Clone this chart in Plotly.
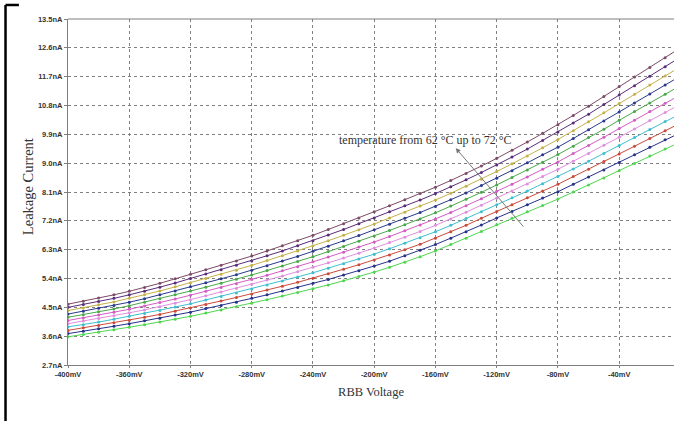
import plotly.graph_objects as go

voltage_mv = [-400, -390, -380, -370, -360, -350, -340, -330, -320, -310, -300,
              -290, -280, -270, -260, -250, -240, -230, -220, -210, -200,
              -190, -180, -170, -160, -150, -140, -130, -120, -110, -100,
              -90, -80, -70, -60, -50, -40, -30, -20, -10, 0]

temps_c = [62, 63, 64, 65, 66, 67, 68, 69, 70, 71, 72]

i62 = [3.58, 3.65, 3.72, 3.80, 3.88, 3.96, 4.04, 4.13, 4.22, 4.32, 4.42, 4.52, 4.63, 4.74, 4.85, 4.96, 5.08, 5.20, 5.33, 5.46, 5.60,
       5.75, 5.91, 6.08, 6.26, 6.46, 6.66, 6.87, 7.08, 7.28, 7.48, 7.68, 7.88, 8.10, 8.32, 8.54, 8.76, 8.99, 9.22, 9.44, 9.66]
i63 = [3.68, 3.75, 3.83, 3.91, 3.99, 4.08, 4.16, 4.26, 4.35, 4.46, 4.56, 4.66, 4.78, 4.89, 5.01, 5.12, 5.25, 5.37, 5.51, 5.64, 5.79,
       5.94, 6.11, 6.28, 6.46, 6.66, 6.86, 7.07, 7.29, 7.49, 7.70, 7.91, 8.11, 8.34, 8.57, 8.79, 9.02, 9.26, 9.50, 9.73, 9.95]
i64 = [3.78, 3.86, 3.93, 4.02, 4.10, 4.19, 4.28, 4.38, 4.48, 4.59, 4.70, 4.81, 4.92, 5.04, 5.16, 5.28, 5.41, 5.55, 5.69, 5.83, 5.98,
       6.13, 6.30, 6.47, 6.66, 6.86, 7.06, 7.28, 7.49, 7.70, 7.92, 8.13, 8.34, 8.58, 8.81, 9.05, 9.29, 9.53, 9.77, 10.01, 10.25]
i65 = [3.89, 3.96, 4.04, 4.13, 4.22, 4.31, 4.40, 4.51, 4.61, 4.73, 4.84, 4.95, 5.07, 5.20, 5.32, 5.45, 5.58, 5.72, 5.86, 6.01, 6.16,
       6.33, 6.50, 6.67, 6.86, 7.06, 7.27, 7.48, 7.70, 7.92, 8.13, 8.36, 8.58, 8.82, 9.06, 9.30, 9.55, 9.80, 10.05, 10.30, 10.54]
i66 = [3.99, 4.07, 4.15, 4.24, 4.33, 4.42, 4.52, 4.63, 4.74, 4.86, 4.98, 5.09, 5.22, 5.35, 5.48, 5.61, 5.75, 5.89, 6.04, 6.19, 6.35,
       6.52, 6.69, 6.87, 7.06, 7.26, 7.47, 7.69, 7.91, 8.13, 8.35, 8.58, 8.81, 9.06, 9.30, 9.56, 9.81, 10.07, 10.33, 10.58, 10.84]
i67 = [4.09, 4.17, 4.26, 4.35, 4.44, 4.54, 4.65, 4.76, 4.88, 5.00, 5.12, 5.24, 5.37, 5.50, 5.64, 5.77, 5.92, 6.07, 6.22, 6.38, 6.54,
       6.71, 6.89, 7.07, 7.26, 7.46, 7.67, 7.89, 8.12, 8.34, 8.57, 8.81, 9.04, 9.30, 9.55, 9.81, 10.08, 10.34, 10.61, 10.87, 11.13]
i68 = [4.19, 4.27, 4.36, 4.45, 4.55, 4.66, 4.77, 4.89, 5.01, 5.13, 5.25, 5.38, 5.51, 5.65, 5.79, 5.93, 6.08, 6.24, 6.40, 6.56, 6.73,
       6.90, 7.08, 7.26, 7.45, 7.66, 7.87, 8.09, 8.32, 8.55, 8.79, 9.03, 9.27, 9.53, 9.80, 10.06, 10.34, 10.61, 10.88, 11.15, 11.42]
i69 = [4.29, 4.38, 4.47, 4.56, 4.66, 4.77, 4.89, 5.01, 5.14, 5.27, 5.39, 5.52, 5.66, 5.80, 5.95, 6.09, 6.25, 6.41, 6.58, 6.74, 6.92,
       7.09, 7.28, 7.46, 7.65, 7.86, 8.07, 8.30, 8.53, 8.76, 9.01, 9.26, 9.50, 9.77, 10.04, 10.32, 10.60, 10.88, 11.16, 11.44, 11.72]
i70 = [4.40, 4.48, 4.58, 4.67, 4.78, 4.89, 5.01, 5.14, 5.27, 5.40, 5.53, 5.66, 5.81, 5.96, 6.11, 6.26, 6.42, 6.58, 6.75, 6.92, 7.10,
       7.29, 7.47, 7.66, 7.85, 8.06, 8.28, 8.50, 8.74, 8.98, 9.22, 9.48, 9.74, 10.01, 10.29, 10.57, 10.86, 11.15, 11.44, 11.72, 12.01]
i71 = [4.50, 4.59, 4.68, 4.78, 4.89, 5.00, 5.13, 5.26, 5.40, 5.54, 5.67, 5.81, 5.95, 6.11, 6.26, 6.42, 6.58, 6.76, 6.93, 7.11, 7.29,
       7.48, 7.67, 7.85, 8.05, 8.26, 8.48, 8.71, 8.94, 9.19, 9.44, 9.71, 9.97, 10.25, 10.53, 10.83, 11.13, 11.42, 11.71, 12.01, 12.31]
i72 = [4.60, 4.69, 4.79, 4.89, 5.00, 5.12, 5.25, 5.39, 5.53, 5.67, 5.81, 5.95, 6.10, 6.26, 6.42, 6.58, 6.75, 6.93, 7.11, 7.29, 7.48,
       7.67, 7.86, 8.05, 8.25, 8.46, 8.68, 8.91, 9.15, 9.40, 9.66, 9.93, 10.20, 10.49, 10.78, 11.08, 11.39, 11.69, 11.99, 12.29, 12.60]

series = [i62, i63, i64, i65, i66, i67, i68, i69, i70, i71, i72]
colors = ["#4fd64f", "#26318a", "#cc4a3a", "#3fbfcf", "#e08fe0", "#d45cc4",
          "#4aa84a", "#2a3a8c", "#c6b048", "#5a2d7a", "#7d4a68"]

x_ticks = [-400, -360, -320, -280, -240, -200, -160, -120, -80, -40]
x_ticktext = ["-400mV", "-360mV", "-320mV", "-280mV", "-240mV", "-200mV",
              "-160mV", "-120mV", "-80mV", "-40mV"]
y_ticks = [2.7, 3.6, 4.5, 5.4, 6.3, 7.2, 8.1, 9.0, 9.9, 10.8, 11.7, 12.6, 13.5]
y_ticktext = ["2.7nA", "3.6nA", "4.5nA", "5.4nA", "6.3nA", "7.2nA", "8.1nA",
              "9.0nA", "9.9nA", "10.8nA", "11.7nA", "12.6nA", "13.5nA"]

fig = go.Figure()
for t, ys, c in zip(temps_c, series, colors):
    fig.add_trace(go.Scatter(
        x=voltage_mv, y=ys, mode="lines+markers", name=f"{t} °C",
        line=dict(color=c, width=1),
        marker=dict(color=c, size=3, line=dict(width=0)),
        showlegend=False, cliponaxis=True))

tick_font = dict(family="Liberation Sans, Arial", size=7.5, color="#333333", weight="bold")
axis_col = "#7f7f7f"
serif = "Liberation Serif, Times New Roman, serif"

fig.update_layout(
    width=674, height=421,
    margin=dict(l=68, r=0, t=19, b=56),
    paper_bgcolor="white", plot_bgcolor="white",
    xaxis=dict(range=[-400, -4.2], tickvals=x_ticks, ticktext=x_ticktext,
               showgrid=True, gridcolor="#808080", griddash="dot", gridwidth=1,
               showline=True, linecolor=axis_col, linewidth=1,
               ticks="outside", ticklen=2, tickcolor=axis_col,
               tickfont=tick_font, zeroline=False,
               title=dict(text="RBB Voltage", standoff=9,
                          font=dict(family=serif, size=12.5, color="#333333"))),
    yaxis=dict(range=[2.7, 13.5], tickvals=y_ticks, ticktext=y_ticktext,
               showgrid=True, gridcolor="#808080", griddash="dot", gridwidth=1,
               showline=True, linecolor=axis_col, linewidth=1,
               ticks="outside", ticklen=3, tickcolor=axis_col,
               tickfont=tick_font, zeroline=False),
)

# y-axis title placed as rotated text
fig.add_annotation(xref="paper", yref="paper", x=-0.066, y=0.514,
                   xanchor="center", yanchor="middle",
                   text="Leakage Current", textangle=-90, showarrow=False,
                   font=dict(family=serif, size=14.5, color="#333333"))

# top border line of the plot area
fig.add_shape(type="line", xref="paper", yref="paper", x0=0, x1=1, y0=1, y1=1,
              line=dict(color=axis_col, width=1))
# black outer frame fragments (cropped figure frame)
fig.add_shape(type="line", xref="paper", yref="paper",
              x0=-0.1031, x1=-0.1031, y0=1.0405, y1=-0.2,
              line=dict(color="black", width=2.5))
fig.add_shape(type="line", xref="paper", yref="paper",
              x0=-0.1031, x1=-0.081, y0=1.0405, y1=1.0405,
              line=dict(color="black", width=2.5))

fig.add_annotation(x=-146.8, y=9.47, xref="x", yref="y", ax=69, ay=80,
                   showarrow=True, arrowhead=2, arrowsize=1, arrowwidth=1,
                   arrowcolor="#777777", text="")
fig.add_annotation(x=-166.4, y=9.72, xref="x", yref="y", showarrow=False,
                   text="temperature from 62 °C up to 72 °C",
                   font=dict(family=serif, size=12, color="#333333"))

fig.write_html("out.html")
